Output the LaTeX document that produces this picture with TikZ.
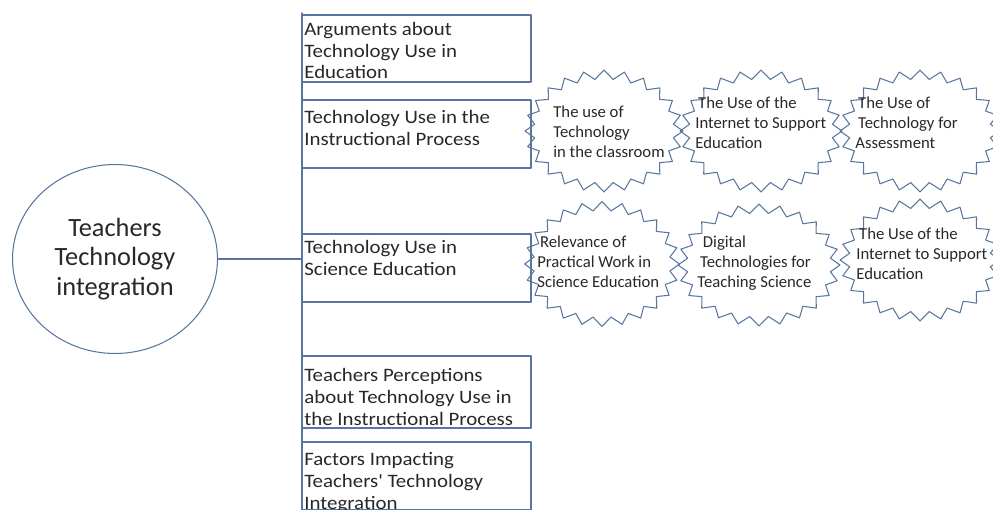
\documentclass[tikz,border=0pt]{standalone}
\usepackage{fontspec}
\setmainfont{Carlito}
\newfontfamily\topicfont{Carlito}[FakeStretch=1.1]
\usetikzlibrary{shapes.geometric,shapes.symbols}
\definecolor{outline}{RGB}{88,118,158}
\definecolor{ink}{RGB}{40,40,40}

\begin{document}
\begin{tikzpicture}[x=0.02cm,y=-0.02cm,line cap=round,line join=round,
  topic/.style={draw=outline,line width=0.6pt,minimum width=4.58cm,inner sep=0pt},
  topictext/.style={anchor=base west,align=left,inner sep=0pt,text=ink,font=\topicfont\fontsize{10.8}{12.3}\selectfont},
  burst/.style={draw=outline,line width=0.6pt,starburst,random starburst=0,starburst points=24,starburst point height=0.18cm,inner sep=0pt},
  bursttext/.style={anchor=base west,align=left,inner sep=0pt,text=ink,font=\fontsize{9.5}{11.1}\selectfont}]
\useasboundingbox (0,0) rectangle (993,510);
% hub
\node [ellipse,draw=outline,line width=0.6pt,minimum width=4.1cm,minimum height=3.78cm,align=center,text=ink,font=\fontsize{15}{16.8}\selectfont] (hub) at (115,259) {Teachers\\Technology\\integration};
\coordinate (spinetop) at (302,13);
\coordinate (spinebot) at (302,510);
\draw [outline,line width=0.6pt] (spinetop) -- (spinebot);
\draw [outline,line width=0.6pt] (hub.east) -- (hub.east -| spinetop);
% topics (text anchored at the baseline of its last line)
\node [topic,minimum height=1.34cm] (args) at (416.5,48.5) {};
\node [topictext] (argstext) at (304,79) {Arguments about\\Technology Use in\\Education};
\node [topic,minimum height=1.36cm] (instr) at (416.5,134) {};
\node [topictext] (instrtext) at (304,145) {Technology Use in the\\Instructional Process};
\node [topic,minimum height=1.36cm] (sci) at (416.5,268) {};
\node [topictext] (scitext) at (304,275) {Technology Use in\\Science Education};
\node [topic,minimum height=1.44cm] (perc) at (416.5,392) {};
\node [topictext] (perctext) at (304,425) {Teachers Perceptions\\about Technology Use in\\the  Instructional Process};
\node [topic,minimum height=1.36cm] (factors) at (416.5,476) {};
\node [topictext] (factorstext) at (304,509) {Factors Impacting\\Teachers' Technology\\Integration};
% bursts, first row
\node [burst,minimum width=3.16cm,minimum height=2.44cm] (useclass) at (604,131) {};
\node [bursttext] at (553,157) {The use of\\Technology\\in the  classroom};
\node [burst,minimum width=3.24cm,minimum height=2.44cm] (internet) at (761,131) {};
\node [bursttext] at (695,148) {\,The Use of the\\Internet to Support\\Education};
\node [burst,minimum width=3.2cm,minimum height=2.44cm] (assess) at (920,131) {};
\node [bursttext] at (855,148) {\,The Use of\\\,Technology for\\Assessment};
% bursts, second row
\node [burst,minimum width=3.1cm,minimum height=2.5cm] (practical) at (602,264) {};
\node [bursttext] at (537,287) {\,Relevance of\\Practical Work in\\Science Education};
\node [burst,minimum width=3.24cm,minimum height=2.44cm] (digital) at (759,265) {};
\node [bursttext] at (697,287) {\,\,Digital\\\,Technologies for\\Teaching Science};
\node [burst,minimum width=3.2cm,minimum height=2.44cm] (internettwo) at (920,260) {};
\node [bursttext] at (856,279) {\,The Use of the\\Internet to Support\\Education};
\end{tikzpicture}
\end{document}
